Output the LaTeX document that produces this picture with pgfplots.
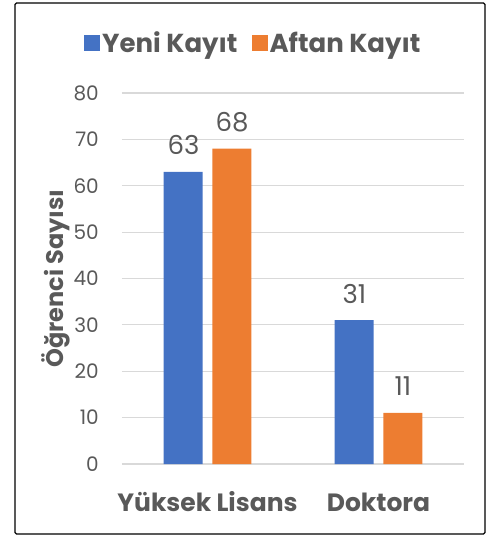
\documentclass[border=0pt]{standalone}
\usepackage{pgfplots}
\pgfplotsset{compat=1.18}
\usepackage{fontspec}
\setmainfont{Poppins}
\definecolor{cblue}{HTML}{4472C4}
\definecolor{corange}{HTML}{ED7D31}
\definecolor{txt}{HTML}{595959}
\definecolor{gridc}{HTML}{D9D9D9}
\newcommand\tickfont{\fontsize{20}{24}\selectfont}
\newcommand\labfont{\fontsize{26}{30}\selectfont}
\newcommand\legfont{\fontsize{26}{30}\selectfont\bfseries}
\newcommand\catfont{\fontsize{25}{30}\selectfont\bfseries}
\newcommand\ylfont{\fontsize{24}{28}\selectfont\bfseries}
\begin{document}
\begin{tikzpicture}
\useasboundingbox (-122pt,-72pt) rectangle (368pt,464pt);
\begin{axis}[
  at={(0,0)}, anchor=south west,
  scale only axis, width=342pt, height=371pt,
  ymin=0, ymax=80, ytick={0,10,...,80},
  xmin=-0.5, xmax=1.5, xtick={0,1},
  xticklabels={Yüksek Lisans, Doktora},
  axis line style={draw=none},
  major tick length=0pt,
  ymajorgrids, grid style={draw=gridc, line width=1.2pt},
  /pgf/number format/assume math mode=true,
  yticklabel style={font=\tickfont, text=txt, anchor=east, inner sep=0pt, xshift=-23pt},
  xticklabel style={font=\catfont, text=txt, anchor=base, inner sep=0pt, yshift=-47pt},
  ylabel={Öğrenci Sayısı},
  ylabel style={font=\ylfont, text=txt, at={(axis description cs:-0.1725,0.5)}, anchor=base},
  bar width=0.228,
  nodes near coords,
  nodes near coords style={font=\labfont, text=txt, anchor=base, inner sep=0pt, yshift=17pt},
  legend style={at={(0.384,1.135)}, anchor=center, draw=none, fill=none, font=\legfont, text=txt,
    legend columns=2, /tikz/every even column/.append style={column sep=12pt}},
  legend image code/.code={\fill[#1, draw=none] (-4pt,-8pt) rectangle (12pt,8pt);},
]
\addplot[ybar, fill=cblue, draw=none, bar shift=-0.142,
  every node near coord/.append style={xshift=-24pt}] coordinates {(0,63) (1,31)};
\addplot[ybar, fill=corange, draw=none, bar shift=0.142,
  every node near coord/.append style={xshift=24.5pt}] coordinates {(0,68) (1,11)};
\legend{Yeni Kayıt, Aftan Kayıt}
\end{axis}
\draw[line width=1.3pt, rounded corners=1.5pt] (-107pt,-70pt) rectangle (363pt,461pt);
\end{tikzpicture}
\end{document}
